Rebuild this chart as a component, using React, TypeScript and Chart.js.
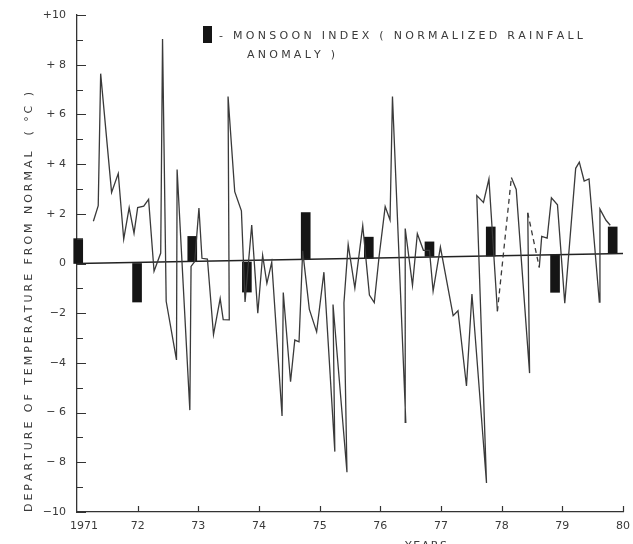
import React, { useEffect, useRef } from 'react';
import { Chart, registerables } from 'chart.js';

Chart.register(...registerables);

// Monthly temperature departure (°C) (year as decimal)
const tempYears = [
  71.27, 71.35, 71.39, 71.57, 71.68, 71.77, 71.86, 71.94, 72.0, 72.1,
  72.18, 72.27, 72.38, 72.41, 72.47, 72.64, 72.65, 72.86, 72.88, 72.94,
  73.01, 73.06, 73.15, 73.25, 73.36, 73.41, 73.51, 73.49, 73.6, 73.71,
  73.77, 73.88, 73.98, 74.06, 74.13, 74.21, 74.38, 74.4, 74.52, 74.59,
  74.66, 74.72, 74.83, 74.95, 75.07, 75.25, 75.22, 75.45, 75.4, 75.47,
  75.58, 75.71, 75.82, 75.9, 75.98, 76.08, 76.16, 76.2, 76.42, 76.41,
  76.53, 76.61, 76.71, 76.81, 76.87, 76.99, 77.2, 77.28, 77.42, 77.51,
  77.75, 77.59, 77.7, 77.79, 77.93, 78.16, 78.24, 78.46, 78.43, 78.62,
  78.66, 78.75, 78.82, 78.92, 79.04, 79.22, 79.28, 79.36, 79.44, 79.61,
  79.62, 79.72, 79.79,
];
const tempValues = [
  1.7, 2.33, 7.64, 2.86, 3.62, 0.98, 2.25, 1.22, 2.25, 2.31,
  2.58, -0.31, 0.42, 9.03, -1.52, -3.88, 3.78, -5.9, -0.12, 0.08,
  2.23, 0.21, 0.18, -2.86, -1.41, -2.26, -2.27, 6.72, 2.89, 2.12,
  -1.55, 1.55, -2.0, 0.33, -0.8, 0.05, -6.14, -1.17, -4.76, -3.08,
  -3.15, 0.51, -1.85, -2.75, -0.35, -7.57, -1.65, -8.4, -1.59, 0.76,
  -0.99, 1.52, -1.27, -1.57, 0.29, 2.29, 1.75, 6.72, -6.39, 1.41,
  -0.88, 1.2, 0.53, 0.53, -1.11, 0.66, -2.1, -1.9, -4.93, -1.23,
  -8.83, 2.73, 2.46, 3.4, -1.92, 3.46, 2.98, -4.41, 2.04, -0.16,
  1.09, 1.02, 2.64, 2.36, -1.6, 3.83, 4.08, 3.32, 3.4, -1.55,
  2.19, 1.74, 1.54,
];
// segments (by index of their first point) drawn dashed
const dashedSegmentStarts = [74, 78];

// Monsoon index (normalized rainfall anomaly) bars: base and top
const monsoonYears = [71.02, 71.99, 72.9, 73.8, 74.77, 75.81, 76.81, 77.82, 78.88, 79.83];
const monsoonBase = [0, 0, 0.08, 0.06, 0.17, 0.21, 0.29, 0.3, 0.35, 0.4];
const monsoonTop = [1.0, -1.55, 1.09, -1.15, 2.05, 1.06, 0.87, 1.47, -1.16, 1.47];

// reference (normal) line
const trendYears = [71, 80];
const trendValues = [0, 0.4];

const xTickLabels = ['    1971', '72', '73', '74', '75', '76', '77', '78', '79', '80'];
const yTickValues = [10, 8, 6, 4, 2, 0, -2, -4, -6, -8, -10];
const yTickLabels = ['+10', '+ 8', '+ 6', '+ 4', '+ 2', '0', '\u22122', '\u22124', '\u2212 6', '\u2212 8', '\u221210'];

const legendLines = ['- MONSOON INDEX ( NORMALIZED RAINFALL', 'ANOMALY )'];
const yTitle = 'DEPARTURE OF TEMPERATURE FROM NORMAL  ( \u00b0C )';
const xTitle = 'YEARS';

const FONT = '"DejaVu Sans", "Liberation Sans", sans-serif';
const INK = '#3a3a3a';

function drawSpaced(ctx: CanvasRenderingContext2D, text: string, x: number, y: number, width: number) {
  const chars = Array.from(text);
  const widths = chars.map((c) => ctx.measureText(c).width);
  const total = widths.reduce((s, w) => s + w, 0);
  const gap = chars.length > 1 ? (width - total) / (chars.length - 1) : 0;
  let cx = x;
  chars.forEach((c, i) => {
    ctx.fillText(c, cx, y);
    cx += widths[i] + gap;
  });
}

const decorPlugin = {
  id: 'decor',
  afterDraw(chart: any) {
    const { ctx, chartArea: a, scales } = chart;
    const xs = scales.x;
    const ys = scales.y;
    ctx.save();
    ctx.strokeStyle = '#333';
    ctx.lineWidth = 1.2;
    ctx.beginPath();
    for (let v = -10; v <= 10; v++) {
      const py = Math.round(ys.getPixelForValue(v)) + 0.5;
      const len = v % 2 === 0 ? 9 : 6;
      ctx.moveTo(a.left, py);
      ctx.lineTo(a.left + len, py);
    }
    for (let yr = 72; yr <= 80; yr++) {
      const px = Math.round(xs.getPixelForValue(yr)) + 0.5;
      ctx.moveTo(px, a.bottom);
      ctx.lineTo(px, a.bottom - 6);
    }
    ctx.stroke();

    // legend
    ctx.fillStyle = '#151515';
    ctx.fillRect(203, 26, 9, 17);
    ctx.fillStyle = INK;
    ctx.font = `11px ${FONT}`;
    ctx.textAlign = 'left';
    ctx.textBaseline = 'alphabetic';
    drawSpaced(ctx, legendLines[0], 219, 39, 364);
    drawSpaced(ctx, legendLines[1], 247, 58, 88);

    // y axis title
    ctx.save();
    ctx.translate(32, 512);
    ctx.rotate(-Math.PI / 2);
    drawSpaced(ctx, yTitle, 0, 0, 420);
    ctx.restore();

    // x axis title
    drawSpaced(ctx, xTitle, 405, 549, 42);
    ctx.restore();
  },
};

export default function App() {
  const ref = useRef<HTMLCanvasElement | null>(null);

  useEffect(() => {
    if (!ref.current) return;
    const tempPoints = tempYears.map((x, i) => ({ x, y: tempValues[i] }));
    const trendPoints = trendYears.map((x, i) => ({ x, y: trendValues[i] }));
    const barPoints = monsoonYears.map((x, i) => ({ x, y: [monsoonBase[i], monsoonTop[i]] }));

    const chart = new Chart(ref.current, {
      type: 'line',
      data: {
        datasets: [
          {
            type: 'line',
            label: 'Temperature departure',
            data: tempPoints as any,
            borderColor: '#3a3a3a',
            borderWidth: 1.3,
            pointRadius: 0,
            tension: 0,
            clip: false as any,
            segment: {
              borderDash: (c: any) => (dashedSegmentStarts.includes(c.p0DataIndex) ? [5, 4] : undefined),
            },
          } as any,
          {
            type: 'line',
            label: 'Normal',
            data: trendPoints as any,
            borderColor: '#222',
            borderWidth: 1.4,
            pointRadius: 0,
          } as any,
          {
            type: 'bar',
            label: 'Monsoon index',
            data: barPoints as any,
            backgroundColor: '#151515',
            borderWidth: 0,
            barThickness: 9,
            clip: false as any,
          } as any,
        ],
      },
      options: {
        responsive: false,
        animation: false,
        events: [],
        layout: { padding: { left: 0, right: 10, top: 15, bottom: 0 } },
        plugins: {
          legend: { display: false },
          tooltip: { enabled: false },
          title: { display: false },
        },
        scales: {
          x: {
            type: 'linear',
            min: 71,
            max: 80,
            offset: false,
            afterFit: (s: any) => {
              s.height = 32;
              s.paddingLeft = 0;
              s.paddingRight = 0;
            },
            grid: { display: false, drawTicks: false, offset: false },
            border: { display: true, color: '#333', width: 1.3 },
            ticks: {
              stepSize: 1,
              padding: 8,
              color: INK,
              font: { family: FONT, size: 11 },
              maxRotation: 0,
              autoSkip: false,
              callback: (v: any) => xTickLabels[Math.round(Number(v)) - 71] ?? '',
            },
          },
          y: {
            type: 'linear',
            min: -10,
            max: 10,
            afterFit: (s: any) => {
              s.width = 77;
              s.paddingTop = 0;
              s.paddingBottom = 0;
            },
            grid: { display: false, drawTicks: false },
            border: { display: true, color: '#333', width: 1.3 },
            ticks: {
              stepSize: 2,
              padding: 11,
              color: INK,
              font: { family: FONT, size: 11 },
              autoSkip: false,
              callback: (v: any) => {
                const i = yTickValues.indexOf(Math.round(Number(v)));
                return i >= 0 ? yTickLabels[i] : '';
              },
            },
          },
        },
      } as any,
      plugins: [decorPlugin],
    });
    return () => chart.destroy();
  }, []);

  return (
    <div style={{ position: 'absolute', left: 0, top: 0, width: 633, height: 544, background: '#fff' }}>
      <canvas ref={ref} width={633} height={544} style={{ display: 'block' }} />
    </div>
  );
}
